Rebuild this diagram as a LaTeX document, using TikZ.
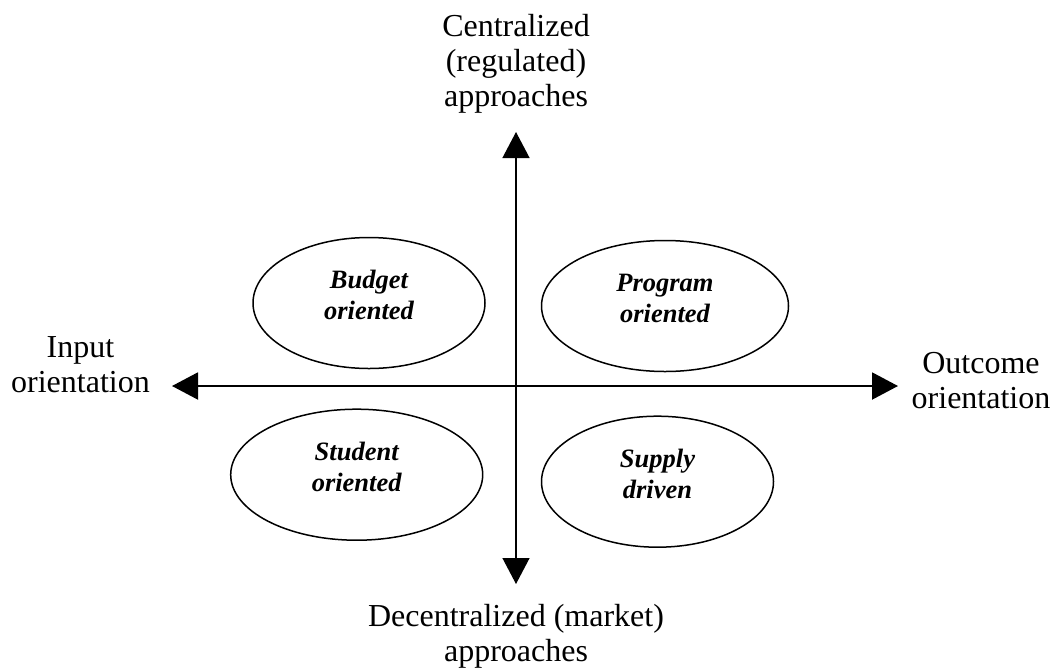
\documentclass[tikz,border=0pt]{standalone}
\usepackage{fontspec}
\setmainfont{Liberation Serif}
\usetikzlibrary{arrows.meta,shapes.geometric}
\begin{document}
\begin{tikzpicture}[x=1pt,y=-1pt,
  axislabel/.style={font=\fontsize{32}{35}\selectfont, align=center, inner sep=0pt, anchor=north},
  quad/.style={draw, ellipse, line width=1.5pt, minimum width=#1, minimum height=131pt, inner sep=0pt},
  quadtext/.style={font=\fontsize{26.5}{31}\selectfont\bfseries\itshape, align=center, inner sep=0pt, anchor=north},
  tip/.style={Triangle[length=26pt,width=27pt]}
]
\useasboundingbox (0,0) rectangle (1054,667);
% axes
\coordinate (top) at (516,132);
\coordinate (bottom) at (516,584);
\coordinate (left) at (172,386);
\coordinate (right) at (898,386);
\draw[line width=1.3pt, {Triangle[length=26pt,width=27pt]}-{Triangle[length=26pt,width=27pt]}] (top) -- (bottom);
\draw[line width=2pt, {Triangle[length=26pt,width=27pt]}-{Triangle[length=26pt,width=27pt]}] (left) -- (right);
% axis labels
\node[axislabel] (central) at (516,14) {Centralized\\(regulated)\\approaches};
\node[axislabel] (decentral) at (516,604.5) {Decentralized (market)\\approaches};
\node[axislabel] (input) at (80.5,336.8) {Input\\orientation};
\node[axislabel] (outcome) at (981,352.5) {Outcome\\orientation};
% quadrant ellipses
\node[quad=232pt] (budget) at (369,303) {};
\node[quad=247pt] (program) at (665,306) {};
\node[quad=252pt] (student) at (356.7,474.7) {};
\node[quad=232pt] (supply) at (657.5,481.7) {};
\node[quadtext] (budgett) at (369,270) {Budget\\oriented};
\node[quadtext] (programt) at (665,273.6) {Program\\oriented};
\node[quadtext] (studentt) at (356.7,441.7) {Student\\oriented};
\node[quadtext] (supplyt) at (657.5,448.7) {Supply\\driven};
\end{tikzpicture}
\end{document}
